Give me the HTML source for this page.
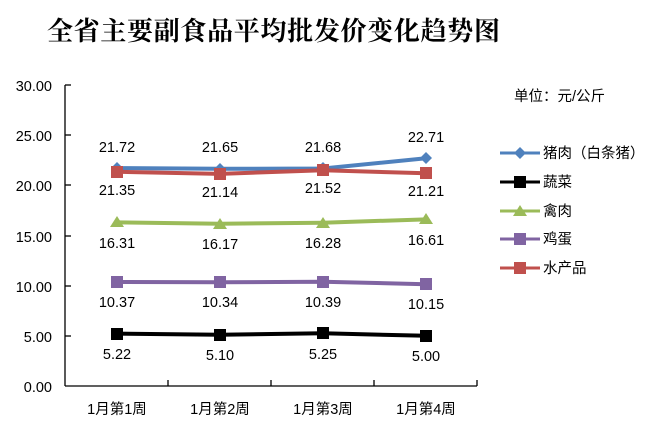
<!DOCTYPE html>
<html><head><meta charset="utf-8"><style>
body{margin:0;background:#fff}
svg text{font-family:"Liberation Sans","Noto Sans CJK SC",sans-serif;font-size:14.5px;fill:#000}
</style></head><body>
<svg width="663" height="431" viewBox="0 0 663 431" xmlns="http://www.w3.org/2000/svg">
<rect width="663" height="431" fill="#fff"/>
<text x="47" y="40" style="font-family:'Noto Serif CJK SC','Liberation Serif',serif;font-size:26px;font-weight:bold" textLength="453">全省主要副食品平均批发价变化趋势图</text>
<g stroke="#000" stroke-width="1.3" fill="none">
<line x1="65" y1="85" x2="65" y2="386"/>
<line x1="65" y1="386" x2="477" y2="386"/>
<line x1="65" y1="85" x2="71" y2="85"/><line x1="65" y1="135" x2="71" y2="135"/><line x1="65" y1="185" x2="71" y2="185"/><line x1="65" y1="236" x2="71" y2="236"/><line x1="65" y1="286" x2="71" y2="286"/><line x1="65" y1="336" x2="71" y2="336"/>
<line x1="168" y1="380" x2="168" y2="386"/><line x1="271" y1="380" x2="271" y2="386"/><line x1="374" y1="380" x2="374" y2="386"/><line x1="477" y1="380" x2="477" y2="386"/>
</g>
<g text-anchor="end">
<text x="52" y="91">30.00</text><text x="52" y="141">25.00</text><text x="52" y="191">20.00</text><text x="52" y="242">15.00</text><text x="52" y="292">10.00</text><text x="52" y="342">5.00</text><text x="52" y="392">0.00</text>
</g>
<g text-anchor="middle">
<text x="117" y="414">1月第1周</text><text x="220" y="414">1月第2周</text><text x="323" y="414">1月第3周</text><text x="426" y="414">1月第4周</text>
</g>
<polyline points="117,168.1 220,168.8 323,168.5 426,158.2" stroke="#4f81bd" stroke-width="4" fill="none"/>
<g fill="#4f81bd"><path d="M117,162 l6,6 -6,6 -6,-6z"/><path d="M220,163 l6,6 -6,6 -6,-6z"/><path d="M323,162 l6,6 -6,6 -6,-6z"/><path d="M426,152 l6,6 -6,6 -6,-6z"/></g>
<polyline points="117,171.8 220,173.9 323,170.2 426,173.3" stroke="#c0504d" stroke-width="4" fill="none"/>
<g fill="#c0504d"><rect x="111" y="166" width="12" height="12"/><rect x="214" y="168" width="12" height="12"/><rect x="317" y="164" width="12" height="12"/><rect x="420" y="167" width="12" height="12"/></g>
<polyline points="117,222.4 220,223.8 323,222.7 426,219.4" stroke="#9bbb59" stroke-width="4" fill="none"/>
<g fill="#9bbb59"><path d="M117,216 l7,11 -14,0z"/><path d="M220,218 l7,11 -14,0z"/><path d="M323,217 l7,11 -14,0z"/><path d="M426,213 l7,11 -14,0z"/></g>
<polyline points="117,282 220,282.3 323,281.8 426,284.2" stroke="#8064a2" stroke-width="4" fill="none"/>
<g fill="#8064a2"><rect x="111" y="276" width="12" height="12"/><rect x="214" y="276" width="12" height="12"/><rect x="317" y="276" width="12" height="12"/><rect x="420" y="278" width="12" height="12"/></g>
<polyline points="117,333.6 220,334.8 323,333.3 426,335.8" stroke="#000" stroke-width="4" fill="none"/>
<g fill="#000"><rect x="111" y="328" width="12" height="12"/><rect x="214" y="329" width="12" height="12"/><rect x="317" y="327" width="12" height="12"/><rect x="420" y="330" width="12" height="12"/></g>
<g text-anchor="middle">
<text x="117" y="152">21.72</text><text x="220" y="152">21.65</text><text x="323" y="152">21.68</text><text x="426" y="142">22.71</text>
<text x="117" y="195">21.35</text><text x="220" y="197">21.14</text><text x="323" y="193">21.52</text><text x="426" y="196">21.21</text>
<text x="117" y="248">16.31</text><text x="220" y="249">16.17</text><text x="323" y="248">16.28</text><text x="426" y="245">16.61</text>
<text x="117" y="307">10.37</text><text x="220" y="307">10.34</text><text x="323" y="307">10.39</text><text x="426" y="309">10.15</text>
<text x="117" y="359">5.22</text><text x="220" y="360">5.10</text><text x="323" y="359">5.25</text><text x="426" y="361">5.00</text>
</g>
<text x="514" y="101">单位：元/公斤</text>
<g stroke-width="3">
<line x1="500" y1="153" x2="540" y2="153" stroke="#4f81bd"/><path d="M520,147 l6,6 -6,6 -6,-6z" fill="#4f81bd"/>
<line x1="500" y1="182" x2="540" y2="182" stroke="#000"/><rect x="514" y="176" width="12" height="12" fill="#000"/>
<line x1="500" y1="211" x2="540" y2="211" stroke="#9bbb59"/><path d="M520,205 l7,11 -14,0z" fill="#9bbb59"/>
<line x1="500" y1="239" x2="540" y2="239" stroke="#8064a2"/><rect x="514" y="233" width="12" height="12" fill="#8064a2"/>
<line x1="500" y1="268" x2="540" y2="268" stroke="#c0504d"/><rect x="514" y="262" width="12" height="12" fill="#c0504d"/>
</g>
<text x="543" y="158">猪肉（白条猪）</text>
<text x="543" y="187">蔬菜</text>
<text x="543" y="216">禽肉</text>
<text x="543" y="244">鸡蛋</text>
<text x="543" y="273">水产品</text>
</svg>
</body></html>
